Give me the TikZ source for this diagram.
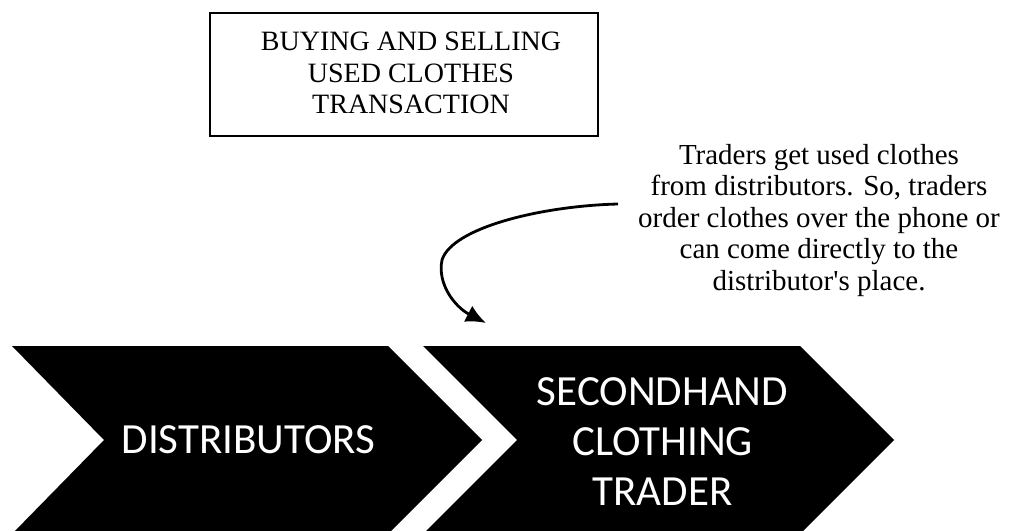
\documentclass[tikz,border=0pt]{standalone}
\usepackage{fontspec}
\setmainfont{Liberation Serif}
\newfontfamily\chevfont{Carlito}
\usetikzlibrary{arrows.meta,calc}
\tikzset{
  chev/.style={fill=black, draw=none},
  chevtext/.style={text=white, font=\chevfont\fontsize{43}{50}\selectfont, align=center, inner sep=0pt},
  titleText/.style={font=\fontsize{28}{31.5}\selectfont, align=center, inner sep=0pt},
  serifText/.style={font=\fontsize{29}{31.5}\selectfont, align=center, inner sep=0pt},
  titlebox/.style={draw=black, line width=1.8pt, minimum width=388pt, minimum height=123pt, inner sep=0pt},
  curvearrow/.style={line width=2.8pt, -{Latex[length=20pt,width=18pt]}}
}
\begin{document}
\begin{tikzpicture}[x=1pt,y=-1pt]
\useasboundingbox (0,0) rectangle (1014,530);
% title box
\node[titlebox, anchor=north west] (title) at (209,12) {};
\node[titleText, anchor=north] (titletext) at (411,32) {BUYING AND SELLING\\USED CLOTHES\\TRANSACTION};
% annotation
\node[serifText, anchor=north] (note) at (819,144) {Traders get used clothes\\from distributors. So, traders\\order clothes over the phone or\\can come directly to the\\distributor\textquotesingle s place.};
% chevrons
\begin{scope}
\clip (0,0) rectangle (1014,530);
\fill[chev] (12,346) -- (388,346) -- (482,440) -- (388,534) -- (12,534) -- (104,440) -- cycle;
\fill[chev] (423,346) -- (800,346) -- (894,440) -- (800,534) -- (423,534) -- (517,440) -- cycle;
\end{scope}
\node[chevtext] (dist) at (248.5,440) {DISTRIBUTORS};
\node[chevtext] (trader) at (662.5,442) {SECONDHAND\\CLOTHING\\TRADER};
% arrow
\coordinate (start) at (618,204);
\coordinate (tip) at (486,323);
\draw[curvearrow] (start) .. controls (540,206) and (452,228) .. (442,260) .. controls (437,284) and (455,307) .. (tip);
\end{tikzpicture}
\end{document}
